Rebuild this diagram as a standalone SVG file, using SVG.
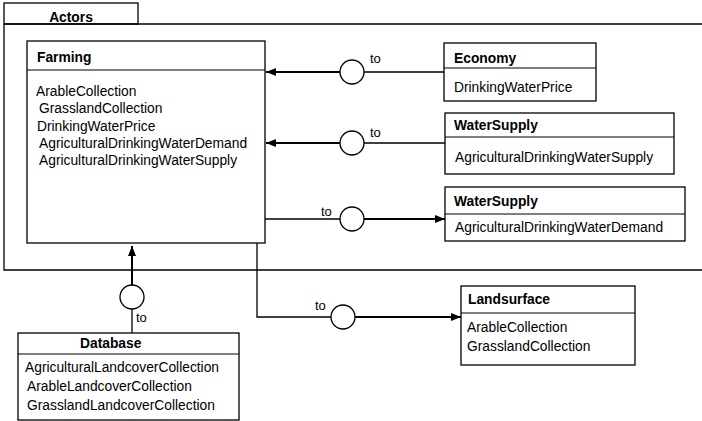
<svg xmlns="http://www.w3.org/2000/svg" width="702" height="421" viewBox="0 0 702 421">
<style>
.box{fill:#fff;stroke:#000;stroke-width:1.3}
.sep{stroke:#000;stroke-width:1.2}
.t{font-family:"Liberation Sans",Arial,sans-serif;font-size:13.8px;fill:#000}
.b{font-family:"Liberation Sans",Arial,sans-serif;font-size:13.8px;font-weight:bold;fill:#000}
.lbl{font-family:"Liberation Sans",Arial,sans-serif;font-size:13px;fill:#000}
.thin{fill:none;stroke:#000;stroke-width:1.3}
.thick{fill:none;stroke:#000;stroke-width:2}
.circ{fill:#fff;stroke:#000;stroke-width:1.3}
</style>
<defs>
<marker id="ah" markerUnits="userSpaceOnUse" markerWidth="10" markerHeight="8" refX="10" refY="4" orient="auto">
<path d="M0,0 L10,4 L0,8 z" fill="#000"/>
</marker>
</defs>
<rect width="702" height="421" fill="#fff"/>
<g id="actors">
<rect class="box" x="4" y="3" width="134" height="21"/>
<path class="thin" d="M4,24 L4,270 L710,270 M4,24 L710,24"/>
<text class="b" x="71" y="22" text-anchor="middle">Actors</text>
</g>
<g id="farming">
<rect class="box" x="27" y="41" width="238" height="202"/>
<line class="sep" x1="27" y1="70" x2="265" y2="70"/>
<text class="b" x="37" y="62">Farming</text>
<text class="t" x="36" y="96">ArableCollection</text>
<text class="t" x="39" y="113">GrasslandCollection</text>
<text class="t" x="37" y="131">DrinkingWaterPrice</text>
<text class="t" x="39" y="148">AgriculturalDrinkingWaterDemand</text>
<text class="t" x="39" y="165">AgriculturalDrinkingWaterSupply</text>
</g>
<g id="economy">
<rect class="box" x="444" y="43" width="152" height="58"/>
<line class="sep" x1="444" y1="68" x2="596" y2="68"/>
<text class="b" x="454" y="63">Economy</text>
<text class="t" x="454" y="92">DrinkingWaterPrice</text>
</g>
<g id="watersupply1">
<rect class="box" x="445" y="113" width="229" height="61"/>
<line class="sep" x1="445" y1="137" x2="674" y2="137"/>
<text class="b" x="454" y="130">WaterSupply</text>
<text class="t" x="455" y="162">AgriculturalDrinkingWaterSupply</text>
</g>
<g id="watersupply2">
<rect class="box" x="445" y="187" width="240" height="54"/>
<line class="sep" x1="445" y1="214" x2="685" y2="214"/>
<text class="b" x="454" y="206">WaterSupply</text>
<text class="t" x="455" y="232">AgriculturalDrinkingWaterDemand</text>
</g>
<g id="landsurface">
<rect class="box" x="461" y="286" width="174" height="79"/>
<line class="sep" x1="461" y1="313" x2="635" y2="313"/>
<text class="b" x="468" y="304">Landsurface</text>
<text class="t" x="467" y="332">ArableCollection</text>
<text class="t" x="467" y="351">GrasslandCollection</text>
</g>
<g id="database">
<rect class="box" x="18" y="333" width="221" height="87"/>
<line class="sep" x1="18" y1="354" x2="239" y2="354"/>
<text class="b" x="80" y="348">Database</text>
<text class="t" x="25" y="372">AgriculturalLandcoverCollection</text>
<text class="t" x="27" y="391">ArableLandcoverCollection</text>
<text class="t" x="27" y="410">GrasslandLandcoverCollection</text>
</g>
<g id="connectors">
<line class="thin" x1="444" y1="72" x2="364" y2="72"/>
<line class="thick" x1="340" y1="72" x2="266" y2="72" marker-end="url(#ah)"/>
<circle class="circ" cx="352" cy="72" r="12"/>
<text class="lbl" x="370" y="63">to</text>
<line class="thin" x1="445" y1="143" x2="364" y2="143"/>
<line class="thick" x1="340" y1="143" x2="266" y2="143" marker-end="url(#ah)"/>
<circle class="circ" cx="352" cy="143" r="12"/>
<text class="lbl" x="370" y="137">to</text>
<line class="thin" x1="265" y1="219" x2="340" y2="219"/>
<line class="thick" x1="364" y1="219" x2="445" y2="219" marker-end="url(#ah)"/>
<circle class="circ" cx="352" cy="219" r="12"/>
<text class="lbl" x="321" y="216">to</text>
<path class="thin" d="M257,243 L257,317 L331,317"/>
<line class="thick" x1="355" y1="317" x2="461" y2="317" marker-end="url(#ah)"/>
<circle class="circ" cx="343" cy="317" r="12"/>
<text class="lbl" x="315" y="310">to</text>
<line class="thin" x1="132" y1="333" x2="132" y2="309"/>
<line class="thick" x1="132" y1="285" x2="132" y2="246" marker-end="url(#ah)"/>
<circle class="circ" cx="132" cy="297" r="12"/>
<text class="lbl" x="136" y="322">to</text>
</g>
</svg>
